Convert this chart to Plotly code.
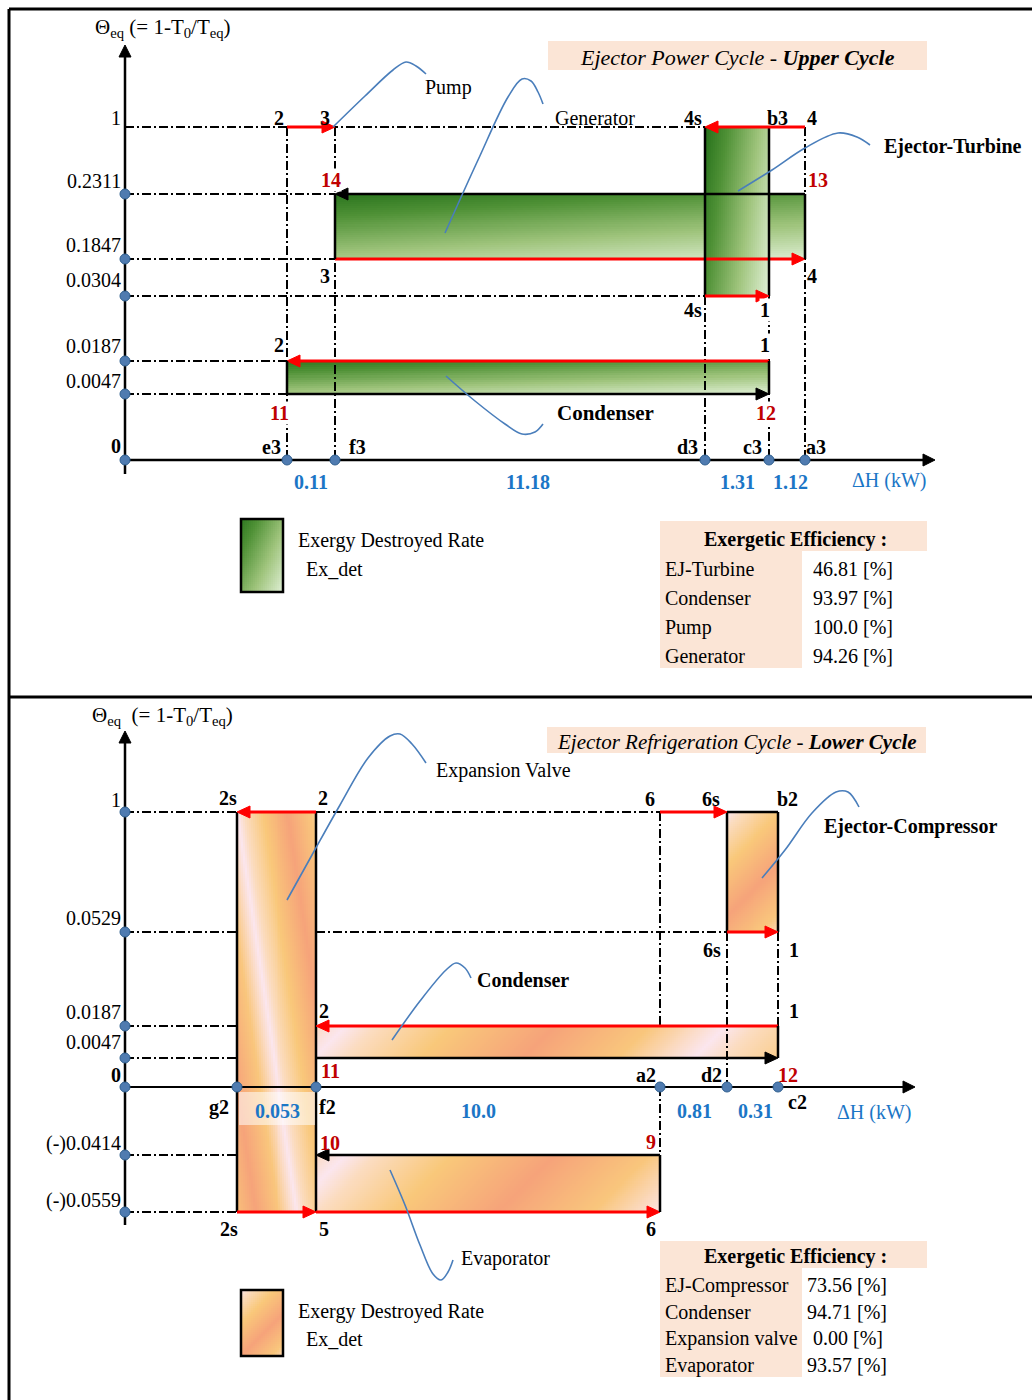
import numpy as np
import plotly.graph_objects as go

# ======================= DATA =======================
# Upper cycle (Ejector Power Cycle)
up_theta_labels = ["1", "0.2311", "0.1847", "0.0304", "0.0187", "0.0047", "0"]
up_points = ["e3", "f3", "d3", "c3", "a3"]
up_dH_values = ["0.11", "11.18", "1.31", "1.12"]
up_components = ["EJ-Turbine", "Condenser", "Pump", "Generator"]
up_efficiency = ["46.81", "93.97", "100.0", "94.26"]

# Lower cycle (Ejector Refrigeration Cycle)
lo_theta_labels = ["1", "0.0529", "0.0187", "0.0047", "0", "(-)0.0414", "(-)0.0559"]
lo_points = ["g2", "f2", "a2", "d2", "c2"]
lo_dH_values = ["0.053", "10.0", "0.81", "0.31"]
lo_components = ["EJ-Compressor", "Condenser", "Expansion valve", "Evaporator"]
lo_efficiency = ["73.56", "94.71", "0.00", "93.57"]

# Which theta levels / dH points bound each exergy-destruction block
up_blocks = {
    "Generator": ("f3", "a3", "0.2311", "0.1847"),
    "EJ-Turbine": ("d3", "c3", "1", "0.0304"),
    "Condenser": ("e3", "c3", "0.0187", "0.0047"),
}
lo_blocks = {
    "Expansion valve": ("g2", "f2", "1", "(-)0.0559"),
    "Condenser": ("f2", "c2", "0.0187", "0.0047"),
    "Evaporator": ("f2", "a2", "(-)0.0414", "(-)0.0559"),
    "EJ-Compressor": ("d2", "c2", "1", "0.0529"),
}

# ============ SCHEMATIC POSITIONS (diagram is not drawn to scale) ============
up_y = dict(zip(up_theta_labels, [127, 194, 259, 296, 361, 394, 460]))
up_x = dict(zip(up_points, [287, 335, 705, 769, 805]))
lo_y = dict(zip(lo_theta_labels, [812, 932, 1026, 1058, 1087, 1155, 1212]))
lo_x = dict(zip(lo_points, [237, 316, 660, 727, 778]))
AX = 125
up_label_y = [118, 181, 245, 280, 346, 381, 446]
lo_label_y = [800, 918, 1012, 1042, 1075, 1143, 1200]
up_val_x = [311, 528, 737, 790]
lo_val_x = [277, 478, 694, 755]

# ======================= STYLE =======================
DD = "9px,3px,2px,3px"
RED = "#ff0000"
DRED = "#c00000"
BLUE = "#1b76c6"
LEAD = "#4a7ebb"
PEACH = "#fbe5d6"
FONT = "Liberation Serif"
GREEN = [[0, "#1d6a15"], [0.3, "#4f9136"], [0.65, "#9fc47c"], [1, "#e0f0d6"]]
ORANGE = [[0, "#fbe6ee"], [0.08, "#fbdcc0"], [0.28, "#f9c87a"], [0.55, "#f6a37a"],
          [0.8, "#f9c67c"], [0.93, "#fbdcc8"], [1, "#fbe6ee"]]

fig = go.Figure()


def seg(xs, ys, color="black", width=2.0, dash=None):
    fig.add_trace(go.Scatter(x=xs, y=ys, mode="lines",
                             line=dict(color=color, width=width, dash=dash),
                             hoverinfo="skip", showlegend=False))


def guide(xs, ys):
    seg(xs, ys, "black", 2, DD)


def head(xt, yt, d, color, L=13, w=6):
    if d == "right":
        px, py = [xt, xt - L, xt - L, xt], [yt, yt - w, yt + w, yt]
    elif d == "left":
        px, py = [xt, xt + L, xt + L, xt], [yt, yt - w, yt + w, yt]
    else:  # up
        px, py = [xt, xt - w, xt + w, xt], [yt, yt + L, yt + L, yt]
    fig.add_trace(go.Scatter(x=px, y=py, mode="lines", fill="toself", fillcolor=color,
                             line=dict(color=color, width=1),
                             hoverinfo="skip", showlegend=False))


def harrow(x0, x1, y, color, width=3):
    s = 1 if x1 > x0 else -1
    seg([x0, x1 - s * 8], [y, y], color, width)
    head(x1, y, "right" if s > 0 else "left", color)


def gradient(x0, x1, y0, y1, fn, cs, step=2):
    nx = max(2, int(round((x1 - x0) / step)))
    ny = max(2, int(round((y1 - y0) / step)))
    xe = np.linspace(x0, x1, nx + 1)
    ye = np.linspace(y0, y1, ny + 1)
    xc = 0.5 * (xe[:-1] + xe[1:])
    yc = 0.5 * (ye[:-1] + ye[1:])
    X, Y = np.meshgrid(xc, yc)
    DX, DY = X - x0, Y - y0
    U, V = DX / (x1 - x0), DY / (y1 - y0)
    Z = np.clip(fn(DX, DY, U, V), 0, 1)
    fig.add_trace(go.Heatmap(x=xe, y=ye, z=Z, colorscale=cs, zmin=0, zmax=1,
                             showscale=False, hoverinfo="skip", zsmooth=False))


def vborder(x, y0, y1):
    seg([x, x], [y0, y1], "black", 2.5)


def leader(pts):
    fig.add_trace(go.Scatter(x=[p[0] for p in pts], y=[p[1] for p in pts], mode="lines",
                             line=dict(color=LEAD, width=1.6, shape="spline", smoothing=1.0),
                             hoverinfo="skip", showlegend=False))


def dots(xs, ys):
    fig.add_trace(go.Scatter(x=xs, y=ys, mode="markers",
                             marker=dict(size=10, color="#4f7bb0",
                                         line=dict(color="#2f5f8f", width=1)),
                             hoverinfo="skip", showlegend=False))


def txt(x, y, s, size=20, color="black", anchor="center", bg=None):
    fig.add_annotation(x=x, y=y, xref="x", yref="y", text=s, showarrow=False,
                       xanchor=anchor, yanchor="middle", bgcolor=bg, borderpad=0,
                       font=dict(family=FONT, size=size, color=color))


def box(x0, x1, y0, y1, fill):
    fig.add_shape(type="rect", x0=x0, x1=x1, y0=y0, y1=y1, xref="x", yref="y",
                  fillcolor=fill, line=dict(width=0), layer="below")


# ======================= FRAME =======================
seg([9, 1032], [9, 9], "black", 3)
seg([9, 9], [9, 1400], "black", 3)
seg([9, 1032], [697, 697], "black", 3)

# ======================= UPPER CYCLE =======================
Y, X = up_y, up_x
# guide lines
guide([AX, X["d3"]], [Y["1"], Y["1"]])
guide([AX, X["f3"]], [Y["0.2311"], Y["0.2311"]])
guide([AX, X["f3"]], [Y["0.1847"], Y["0.1847"]])
guide([AX, X["d3"]], [Y["0.0304"], Y["0.0304"]])
guide([AX, X["e3"]], [Y["0.0187"], Y["0.0187"]])
guide([AX, X["e3"]], [Y["0.0047"], Y["0.0047"]])
guide([X["e3"], X["e3"]], [Y["1"], Y["0"]])
guide([X["f3"], X["f3"]], [Y["1"], Y["0"]])
guide([X["d3"], X["d3"]], [Y["0.0304"], Y["0"]])
guide([X["c3"], X["c3"]], [Y["0.0304"], Y["0"]])
guide([X["a3"], X["a3"]], [Y["1"], Y["0"]])
# axes
seg([AX, 925], [Y["0"], Y["0"]], "black", 2.5)
head(935, Y["0"], "right", "black", 12, 6)
seg([AX, AX], [474, 55], "black", 2.5)
head(AX, 45, "up", "black", 12, 6)

# Generator block
b = up_blocks["Generator"]
x0, x1, y0, y1 = X[b[0]], X[b[1]], Y[b[2]], Y[b[3]]
gradient(x0, x1, y0, y1, lambda dx, dy, u, v: 0.08 + 0.62 * v + 0.28 * u, GREEN)
harrow(x1, x0, y0, "black", 2.5)
harrow(x0, x1, y1, RED, 3)
vborder(x0, y0, y1)
vborder(x1, y0, y1)

# EJ-Turbine block
b = up_blocks["EJ-Turbine"]
x0, x1, y0, y1 = X[b[0]], X[b[1]], Y[b[2]], Y[b[3]]
gradient(x0, x1, y0, y1, lambda dx, dy, u, v: 0.05 + 0.7 * u + 0.25 * v, GREEN)
vborder(x0, y0, y1)
vborder(x1, y0, y1)
harrow(X["a3"], x0, y0, RED, 3)
harrow(x0, x1, y1, RED, 3)

# Condenser block
b = up_blocks["Condenser"]
x0, x1, y0, y1 = X[b[0]], X[b[1]], Y[b[2]], Y[b[3]]
gradient(x0, x1, y0, y1, lambda dx, dy, u, v: 0.1 + 0.6 * v + 0.3 * u, GREEN)
harrow(x1, x0, y0, RED, 3)
harrow(x0, x1, y1, "black", 2.5)
vborder(x0, y0, y1)
vborder(x1, y0, y1)

# Pump
harrow(X["e3"], X["f3"], Y["1"], RED, 3)

# dots
dots([AX] * 6 + [X[p] for p in up_points],
     [Y[k] for k in up_theta_labels[1:]] + [Y["0"]] * len(up_points))

# leaders
leader([(333, 127), (365, 96), (393, 70), (406, 62), (416, 66), (426, 74)])
leader([(445, 233), (478, 160), (508, 97), (522, 79), (531, 81), (538, 92), (543, 104)])
leader([(738, 191), (772, 170), (805, 148), (838, 133), (857, 137), (870, 145)])
leader([(446, 376), (475, 401), (505, 424), (522, 434), (535, 432), (543, 424)])

# texts
txt(94, 28, "Θ<sub>eq</sub> (= 1-T<sub>0</sub>/T<sub>eq</sub>)", 21, anchor="left")
for lab, yy in zip(up_theta_labels, up_label_y):
    txt(122, yy, "<b>0</b>" if lab == "0" else lab, 20, anchor="right")
for lab, xx in zip(up_dH_values, up_val_x):
    txt(xx, 482, "<b>" + lab + "</b>", 20, BLUE)
txt(889, 480, "ΔH (kW)", 20, BLUE)
for lab, xx in zip(up_points, [271, 357, 687, 752, 816]):
    txt(xx, 447, "<b>" + lab + "</b>", 20)
for s, xx, yy, bg in [("2", 279, 118, None), ("3", 325, 118, None), ("4s", 693, 118, None),
                      ("b3", 777, 118, None), ("4", 812, 118, None), ("3", 325, 276, None),
                      ("4", 812, 276, None), ("4s", 693, 310, None), ("1", 765, 310, "white"),
                      ("2", 279, 345, None), ("1", 765, 345, "white")]:
    txt(xx, yy, "<b>" + s + "</b>", 20, bg=bg)
for s, xx, yy in [("14", 331, 180), ("13", 818, 180), ("11", 279, 413), ("12", 766, 413)]:
    txt(xx, yy, "<b>" + s + "</b>", 20, DRED, bg="white")
txt(424, 87, "Pump", 20, anchor="left")
txt(595, 118, "Generator", 20)
txt(883, 146, "<b>Ejector-Turbine</b>", 20, anchor="left")
txt(605, 413, "<b>Condenser</b>", 21)

box(548, 927, 41, 70, PEACH)
txt(737, 57, "<i>Ejector Power Cycle - <b>Upper Cycle</b></i>", 22)

# legend + table (upper)
gradient(241, 283, 519, 592, lambda dx, dy, u, v: 0.1 + 0.5 * u + 0.4 * v, GREEN)
fig.add_shape(type="rect", x0=241, x1=283, y0=519, y1=592, xref="x", yref="y",
              line=dict(color="black", width=2.5))
txt(297, 540, "Exergy Destroyed Rate", 20, anchor="left")
txt(305, 569, "Ex_det", 20, anchor="left")
box(660, 927, 521, 551, PEACH)
box(660, 802, 551, 668, PEACH)
txt(795, 539, "<b>Exergetic Efficiency :</b>", 20)
for name, val, yy in zip(up_components, up_efficiency, [569, 598, 627, 656]):
    txt(664, yy, name, 20, anchor="left")
    txt(812, yy, val + " [%]", 20, anchor="left")

# ======================= LOWER CYCLE =======================
Y, X = lo_y, lo_x
guide([AX, X["g2"]], [Y["1"], Y["1"]])
guide([X["f2"], X["a2"]], [Y["1"], Y["1"]])
guide([AX, X["g2"]], [Y["0.0529"], Y["0.0529"]])
guide([X["f2"], X["d2"]], [Y["0.0529"], Y["0.0529"]])
for k in ["0.0187", "0.0047", "(-)0.0414", "(-)0.0559"]:
    guide([AX, X["g2"]], [Y[k], Y[k]])
guide([X["a2"], X["a2"]], [Y["1"], Y["0.0187"]])
guide([X["a2"], X["a2"]], [Y["0"], Y["(-)0.0414"]])
guide([X["d2"], X["d2"]], [Y["0.0529"], Y["0"]])
guide([X["c2"], X["c2"]], [Y["0.0529"], Y["0.0187"]])
# axes
seg([AX, 905], [Y["0"], Y["0"]], "black", 2.2)
head(915, Y["0"], "right", "black", 12, 6)
seg([AX, AX], [1225, 742], "black", 2.5)
head(AX, 731, "up", "black", 12, 6)

# Expansion valve block
b = lo_blocks["Expansion valve"]
x0, x1, y0, y1 = X[b[0]], X[b[1]], Y[b[2]], Y[b[3]]
gradient(x0, x1, y0, y1, lambda dx, dy, u, v: np.mod((dx - 0.15 * dy) / 92.0, 1), ORANGE)
vborder(x0, y0, y1)
vborder(x1, y0, y1)
harrow(x1, x0, y0, RED, 3)
harrow(x0, x1, y1, RED, 3)

# Condenser block
b = lo_blocks["Condenser"]
x0, x1, y0, y1 = X[b[0]], X[b[1]], Y[b[2]], Y[b[3]]
gradient(x0, x1, y0, y1, lambda dx, dy, u, v: np.mod((dx + dy - 30) / 380.0, 1), ORANGE)
harrow(x1, x0, y0, RED, 3)
harrow(x0, x1, y1, "black", 2.5)
vborder(x1, y0, y1)

# Evaporator block
b = lo_blocks["Evaporator"]
x0, x1, y0, y1 = X[b[0]], X[b[1]], Y[b[2]], Y[b[3]]
gradient(x0, x1, y0, y1, lambda dx, dy, u, v: np.mod((dx + dy - 30) / 380.0, 1), ORANGE)
harrow(x1, x0, y0, "black", 2.5)
harrow(x0, x1, y1, RED, 3)
vborder(x1, y0, y1)

# EJ-Compressor block
b = lo_blocks["EJ-Compressor"]
x0, x1, y0, y1 = X[b[0]], X[b[1]], Y[b[2]], Y[b[3]]
gradient(x0, x1, y0, y1, lambda dx, dy, u, v: np.mod((dx + dy) / 190.0, 1), ORANGE)
vborder(x0, y0, y1)
vborder(x1, y0, y1)
seg([x0, x1], [y0, y0], "black", 2.5)
harrow(X["a2"], x0, y0, RED, 3)
harrow(x0, x1, y1, RED, 3)

dots([AX] * 7 + [X[p] for p in lo_points],
     [Y[k] for k in lo_theta_labels] + [Y["0"]] * len(lo_points))

leader([(287, 900), (312, 855), (340, 805), (368, 758), (390, 736), (400, 734), (412, 744), (426, 763)])
leader([(762, 878), (785, 850), (812, 813), (836, 792), (848, 792), (859, 807)])
leader([(392, 1040), (420, 1001), (446, 970), (456, 963), (465, 968), (471, 978)])
leader([(390, 1170), (405, 1205), (420, 1245), (433, 1274), (441, 1280), (448, 1272), (453, 1260)])

# white label patch over expansion block
fig.add_shape(type="rect", x0=239, x1=315, y0=1092, y1=1125, xref="x", yref="y",
              fillcolor="rgba(255,255,255,0.55)", line=dict(width=0))

txt(91, 716, "Θ<sub>eq</sub>  (= 1-T<sub>0</sub>/T<sub>eq</sub>)", 21, anchor="left")
for lab, yy in zip(lo_theta_labels, lo_label_y):
    txt(122, yy, "<b>0</b>" if lab == "0" else lab, 20, anchor="right")
for lab, xx in zip(lo_dH_values, lo_val_x):
    txt(xx, 1111, "<b>" + lab + "</b>", 20, BLUE)
txt(874, 1112, "ΔH (kW)", 20, BLUE)
for lab, xx, yy in zip(lo_points, [219, 327, 646, 711, 797], [1107, 1107, 1075, 1075, 1102]):
    txt(xx, yy, "<b>" + lab + "</b>", 20)
for s, xx, yy in [("2s", 228, 798), ("2", 323, 798), ("6", 650, 799), ("6s", 711, 799),
                  ("b2", 787, 799), ("6s", 712, 950), ("1", 794, 950), ("2", 324, 1011),
                  ("1", 794, 1011), ("2s", 229, 1229), ("5", 324, 1229), ("6", 651, 1229)]:
    txt(xx, yy, "<b>" + s + "</b>", 20)
for s, xx, yy in [("11", 330, 1071), ("12", 788, 1075), ("10", 330, 1143), ("9", 651, 1142)]:
    txt(xx, yy, "<b>" + s + "</b>", 20, DRED)
txt(435, 770, "Expansion Valve", 20, anchor="left")
txt(823, 826, "<b>Ejector-Compressor</b>", 20, anchor="left")
txt(476, 980, "<b>Condenser</b>", 20, anchor="left")
txt(460, 1258, "Evaporator", 20, anchor="left")

box(547, 926, 727, 753, PEACH)
txt(737, 742, "<i>Ejector Refrigeration Cycle - <b>Lower Cycle</b></i>", 21)

gradient(241, 283, 1290, 1356, lambda dx, dy, u, v: np.mod((dx + dy) / 120.0, 1), ORANGE)
fig.add_shape(type="rect", x0=241, x1=283, y0=1290, y1=1356, xref="x", yref="y",
              line=dict(color="black", width=2.5))
txt(297, 1311, "Exergy Destroyed Rate", 20, anchor="left")
txt(305, 1339, "Ex_det", 20, anchor="left")
box(660, 927, 1241, 1268, PEACH)
box(660, 802, 1268, 1377, PEACH)
txt(795, 1256, "<b>Exergetic Efficiency :</b>", 20)
for name, val, yy in zip(lo_components, lo_efficiency, [1285, 1312, 1338, 1365]):
    txt(664, yy, name, 20, anchor="left")
    txt(806 if len(val) > 4 else 812, yy, val + " [%]", 20, anchor="left")

fig.update_layout(
    width=1032, height=1400,
    margin=dict(l=0, r=0, t=0, b=0),
    paper_bgcolor="white", plot_bgcolor="white",
    xaxis=dict(range=[0, 1032], visible=False, fixedrange=True),
    yaxis=dict(range=[1400, 0], visible=False, fixedrange=True),
    showlegend=False,
)
fig.write_html("out.html")
